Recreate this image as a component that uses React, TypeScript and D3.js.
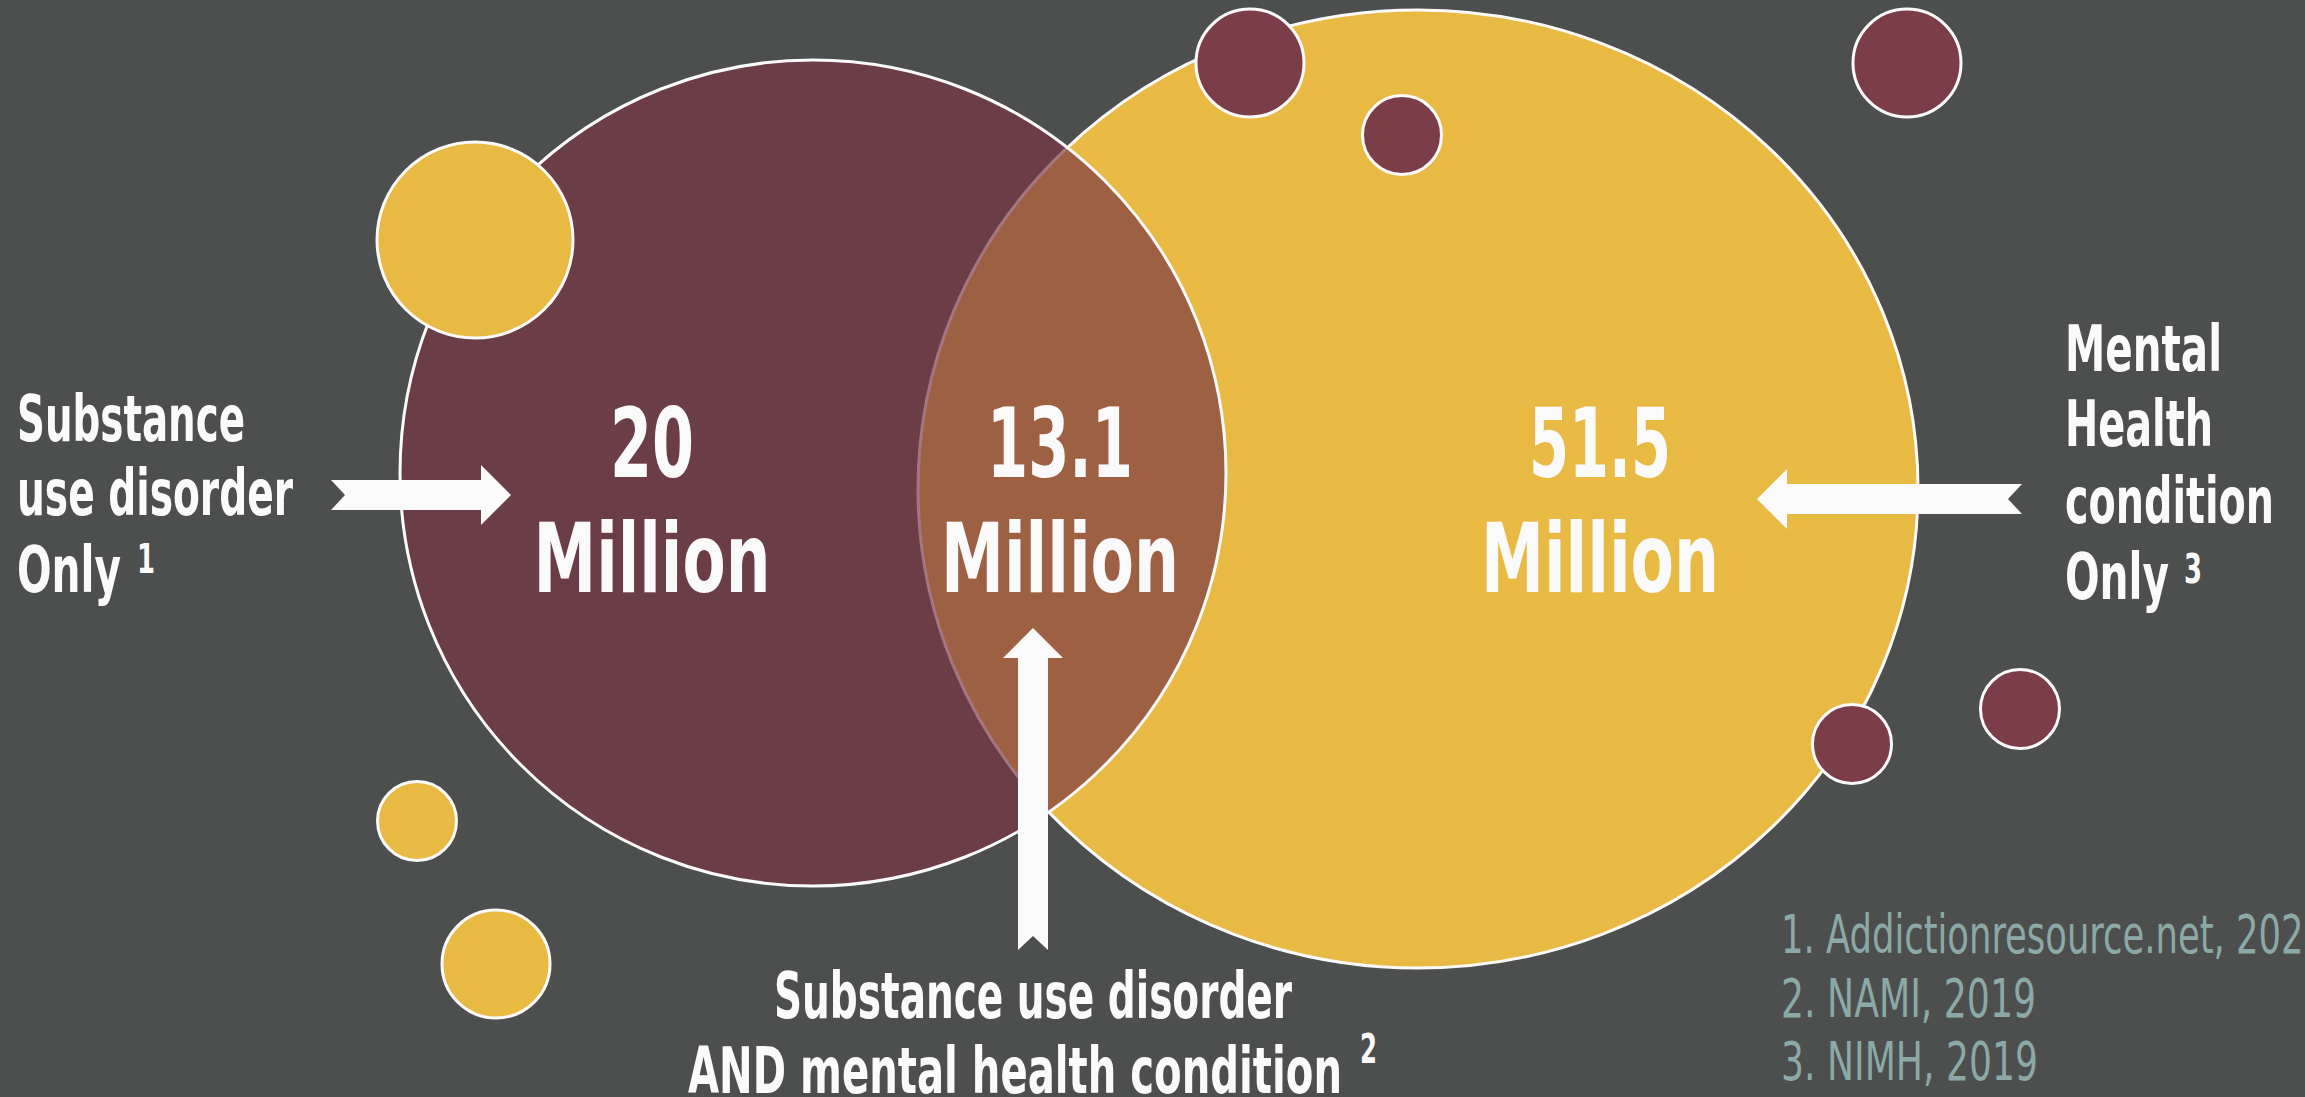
import React, { useEffect } from "react";
import * as d3 from "d3";

// ---------- data ----------
const groups = ["Substance use disorder only", "Both", "Mental health condition only"];
const valuesMillions = [20, 13.1, 51.5];
const valueLabels = ["20", "13.1", "51.5"];
const unitLabel = "Million";
const leftLabelLines = ["Substance", "use disorder", "Only"];
const rightLabelLines = ["Mental", "Health", "condition", "Only"];
const bottomLabelLines = ["Substance use disorder", "AND mental health condition"];
const footnoteRefs = ["1", "2", "3"];
const sources = ["1. Addictionresource.net, 2020", "2. NAMI, 2019", "3. NIMH, 2019"];

// ---------- layout ----------
const W = 2305;
const H = 1097;
const BG = "#4d4f4e";
const YELLOW = "#e8b943";
const MAROON = "#7b3744";
const BUBBLE_MAROON = "#7b3d47";
const WHITE = "#fafafa";
const SRC = "#8aa9a7";
const FONT = "'Liberation Sans Narrow', 'DejaVu Sans Condensed', 'Roboto', sans-serif";

const leftCircle = { cx: 813, cy: 473, r: 413 };
const rightEllipse = { cx: 1418, cy: 489, rx: 500, ry: 479 };

const bubbles = [
  { cx: 475, cy: 240, r: 98, fill: YELLOW },
  { cx: 417, cy: 821, r: 39.5, fill: YELLOW },
  { cx: 496, cy: 964, r: 54, fill: YELLOW },
  { cx: 1250, cy: 63, r: 54, fill: BUBBLE_MAROON },
  { cx: 1402, cy: 135, r: 39.5, fill: BUBBLE_MAROON },
  { cx: 1907, cy: 63, r: 54, fill: BUBBLE_MAROON },
  { cx: 1852, cy: 744, r: 39.5, fill: BUBBLE_MAROON },
  { cx: 2020, cy: 709, r: 39.5, fill: BUBBLE_MAROON },
];

const numberPos = [
  { x: 652, numW: 84, unitW: 237 },
  { x: 1060, numW: 146, unitW: 238 },
  { x: 1600, numW: 142, unitW: 238 },
];
const numBaseline = 477;
const unitBaseline = 592;

const arrows = [
  { tail: [331, 495], tip: [511, 495] },
  { tail: [2022, 499], tip: [1757, 499] },
  { tail: [1033, 950], tip: [1033, 628] },
];

function arrowPath(tail: number[], tip: number[]) {
  const sh = 15, hh = 30, hl = 30, notch = 14;
  const dx = tip[0] - tail[0], dy = tip[1] - tail[1];
  const L = Math.hypot(dx, dy);
  const ux = dx / L, uy = dy / L;
  const nx = -uy, ny = ux;
  const p = (a: number, b: number): [number, number] => [tail[0] + ux * a + nx * b, tail[1] + uy * a + ny * b];
  const pts = [p(0, sh), p(L - hl, sh), p(L - hl, hh), p(L, 0), p(L - hl, -hh), p(L - hl, -sh), p(0, -sh), p(notch, 0)];
  const path = d3.path();
  path.moveTo(pts[0][0], pts[0][1]);
  pts.slice(1).forEach((q) => path.lineTo(q[0], q[1]));
  path.closePath();
  return path.toString();
}

const leftLabel = { x: 17, baselines: [441, 515, 592], widths: [228, 276, 104], sup: { x: 137, w: 18, y: 573 } };
const rightLabel = { x: 2065, baselines: [371, 446, 523, 599], widths: [157, 148, 209, 104], sup: { x: 2184, w: 18, y: 583 } };
const bottomLabel = { baselines: [1018, 1093], spans: [[774, 1292], [688, 1342]], sup: { x: 1360, w: 17, y: 1063 } };
const sourcePos = { x: 1781, baselines: [953, 1017, 1080], widths: [545, 255, 257] };

export default function App() {
  useEffect(() => {
    document.body.style.margin = "0";
    document.body.style.background = BG;
    document.body.style.overflow = "hidden";
  }, []);

  const labelSize = 64;
  const supSize = 40;

  return (
    <svg width={W} height={H} viewBox={`0 0 ${W} ${H}`} style={{ display: "block", background: BG }}>
      <rect x={0} y={0} width={W} height={H} fill={BG} />
      <ellipse cx={rightEllipse.cx} cy={rightEllipse.cy} rx={rightEllipse.rx} ry={rightEllipse.ry} fill={YELLOW} stroke={WHITE} strokeWidth={3} />
      <circle cx={leftCircle.cx} cy={leftCircle.cy} r={leftCircle.r} fill={MAROON} fillOpacity={0.68} stroke={WHITE} strokeWidth={3} />

      {bubbles.map((b, i) => (
        <circle key={i} cx={b.cx} cy={b.cy} r={b.r} fill={b.fill} stroke={WHITE} strokeWidth={3} />
      ))}

      {valueLabels.map((v, i) => (
        <g key={groups[i]} fontFamily={FONT} fontWeight="bold" fill={WHITE} textAnchor="middle" fontSize={96}>
          <text x={numberPos[i].x} y={numBaseline} textLength={numberPos[i].numW} lengthAdjust="spacingAndGlyphs">{v}</text>
          <text x={numberPos[i].x} y={unitBaseline} textLength={numberPos[i].unitW} lengthAdjust="spacingAndGlyphs">{unitLabel}</text>
        </g>
      ))}

      {arrows.map((a, i) => (
        <path key={i} d={arrowPath(a.tail, a.tip)} fill={WHITE} />
      ))}

      <g fontFamily={FONT} fontWeight="bold" fill={WHITE} fontSize={labelSize}>
        {leftLabelLines.map((t, i) => (
          <text key={t} x={leftLabel.x} y={leftLabel.baselines[i]} textLength={leftLabel.widths[i]} lengthAdjust="spacingAndGlyphs">{t}</text>
        ))}
        <text x={leftLabel.sup.x} y={leftLabel.sup.y} fontSize={supSize} textLength={leftLabel.sup.w} lengthAdjust="spacingAndGlyphs">{footnoteRefs[0]}</text>
      </g>

      <g fontFamily={FONT} fontWeight="bold" fill={WHITE} fontSize={labelSize}>
        {rightLabelLines.map((t, i) => (
          <text key={t} x={rightLabel.x} y={rightLabel.baselines[i]} textLength={rightLabel.widths[i]} lengthAdjust="spacingAndGlyphs">{t}</text>
        ))}
        <text x={rightLabel.sup.x} y={rightLabel.sup.y} fontSize={supSize} textLength={rightLabel.sup.w} lengthAdjust="spacingAndGlyphs">{footnoteRefs[2]}</text>
      </g>

      <g fontFamily={FONT} fontWeight="bold" fill={WHITE} fontSize={labelSize}>
        {bottomLabelLines.map((t, i) => (
          <text key={t} x={bottomLabel.spans[i][0]} y={bottomLabel.baselines[i]} textLength={bottomLabel.spans[i][1] - bottomLabel.spans[i][0]} lengthAdjust="spacingAndGlyphs">{t}</text>
        ))}
        <text x={bottomLabel.sup.x} y={bottomLabel.sup.y} fontSize={supSize} textLength={bottomLabel.sup.w} lengthAdjust="spacingAndGlyphs">{footnoteRefs[1]}</text>
      </g>

      <g fontFamily={FONT} fill={SRC} fontSize={53}>
        {sources.map((s, i) => (
          <text key={s} x={sourcePos.x} y={sourcePos.baselines[i]} textLength={sourcePos.widths[i]} lengthAdjust="spacingAndGlyphs">{s}</text>
        ))}
      </g>
    </svg>
  );
}
